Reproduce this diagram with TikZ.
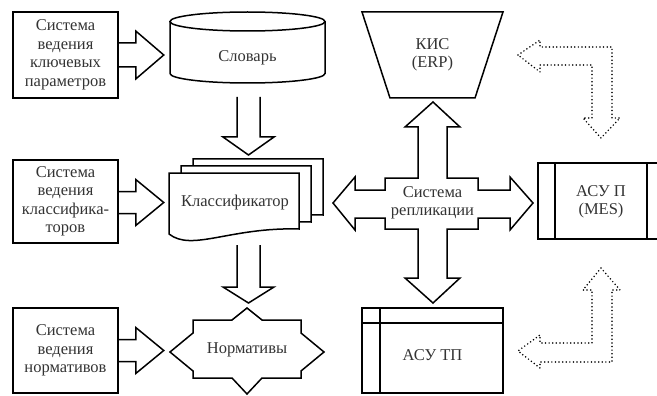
\documentclass[tikz,border=0pt]{standalone}
\usepackage{fontspec}
\setmainfont{Liberation Serif}
\newfontfamily\tnrfont{Liberation Serif}
\begin{document}
\begin{tikzpicture}[x=1pt,y=-1pt,
  ln/.style={line width=1.5pt},
  dots/.style={line width=1.7pt, dash pattern=on 0pt off 3.6pt, line cap=round},
  txt/.style={align=center, text=black!80, font=\tnrfont\fontsize{16.5}{18.5}\selectfont, inner sep=0pt},
  sysbox/.style={txt, draw=black, ln, minimum width=105pt}]
\useasboundingbox (0,0) rectangle (657,396);
\clip (0,0) rectangle (657,396);
\node[sysbox, minimum height=86pt] (sys1) at (65.5,55) {Система\\ведения\\ключевых\\параметров};
\node[sysbox, minimum height=83pt] (sys2) at (65.5,201.5) {Система\\ведения\\классифика-\\торов};
\node[sysbox, minimum height=85pt] (sys3) at (65.5,350.5) {Система\\ведения\\нормативов};
\draw[ln] (sys1.east) ++(0,-12) -- ++(17,0) -- ++(0,-12) -- ++(28,24) -- ++(-28,24) -- ++(0,-12) -- ++(-17,0);
\draw[ln] (sys2.east) ++(0,-10) -- ++(17,0) -- ++(0,-12) -- ++(28,23) -- ++(-28,23) -- ++(0,-12) -- ++(-17,0);
\draw[ln] (sys3.east) ++(0,-11) -- ++(17,0) -- ++(0,-12) -- ++(28,23) -- ++(-28,23) -- ++(0,-12) -- ++(-17,0);
\draw[ln] (170,21.5) -- (170,73.5) arc[start angle=180, end angle=0, x radius=77.5, y radius=9.5] -- (325,21.5);
\draw[ln] (247.5,21.5) ellipse (77.5 and 9.5);
\node[txt] (slovar) at (247.5,58) {Словарь};
\draw[ln] (237,97) -- (237,137) -- (223,137) -- (248.5,155) -- (274,137) -- (260,137) -- (260,97);
\foreach \dx/\dy in {24/-14,12/-7,0/0}
  \draw[ln, fill=white, shift={(\dx,\dy)}] (169,173) -- (299,173) -- (299,229) .. controls (230,227) and (192,252) .. (169,234) -- cycle;
\node[txt] (klass) at (235,203) {Классификатор};
\draw[ln] (237,245) -- (237,287) -- (223,287) -- (248.5,303) -- (274,287) -- (260,287) -- (260,245);
\draw[ln] (170,352) -- (193,333) -- (193,320) -- (232,320) -- (247,308) -- (262,320) -- (301,320) -- (301,333) -- (324,352) -- (301,371) -- (301,378) -- (262,378) -- (247,394) -- (232,378) -- (193,378) -- (193,371) -- cycle;
\node[txt] (normy) at (247,350) {Нормативы};
\draw[ln] (362,12) -- (503,12) -- (475,98) -- (390,98) -- cycle;
\node[txt] (kis) at (432.5,55) {КИС\\(ERP)};
\draw[ln] (433,102) -- (460,127) -- (447,127) -- (447,178) -- (478,178) -- (478,190) -- (510,190) -- (510,177) -- (533,203) -- (510,230) -- (510,218) -- (478,218) -- (478,229) -- (447,229) -- (447,278) -- (460,278) -- (433,303) -- (405,278) -- (418,278) -- (418,229) -- (385,229) -- (385,218) -- (355,218) -- (355,230) -- (333,203) -- (355,177) -- (355,190) -- (385,190) -- (385,178) -- (418,178) -- (418,127) -- (405,127) -- cycle;
\node[txt] (repl) at (432.5,203) {Система\\репликации};
\draw[ln] (662,163) -- (538,163) -- (538,239) -- (662,239);
\draw[ln] (555,163) -- (555,239);
\draw[ln] (647,163) -- (647,239);
\node[txt] (asup) at (601,202) {АСУ П\\(MES)};
\draw[ln] (362,308) rectangle (503,393);
\draw[ln] (362,323) -- (503,323);
\draw[ln] (380,308) -- (380,393);
\node[txt] (asutp) at (432.5,355) {АСУ ТП};
\draw[dots] (518,55) -- (540,40) -- (540,47) -- (612,47) -- (612,118) -- (620,118) -- (601,138) -- (583,118) -- (592,118) -- (592,65) -- (540,65) -- (540,72) -- cycle;
\draw[dots] (601,268) -- (620,290) -- (612,290) -- (612,362) -- (540,362) -- (540,368) -- (518,351) -- (540,335) -- (540,343) -- (592,343) -- (592,290) -- (583,290) -- cycle;
\end{tikzpicture}
\end{document}
